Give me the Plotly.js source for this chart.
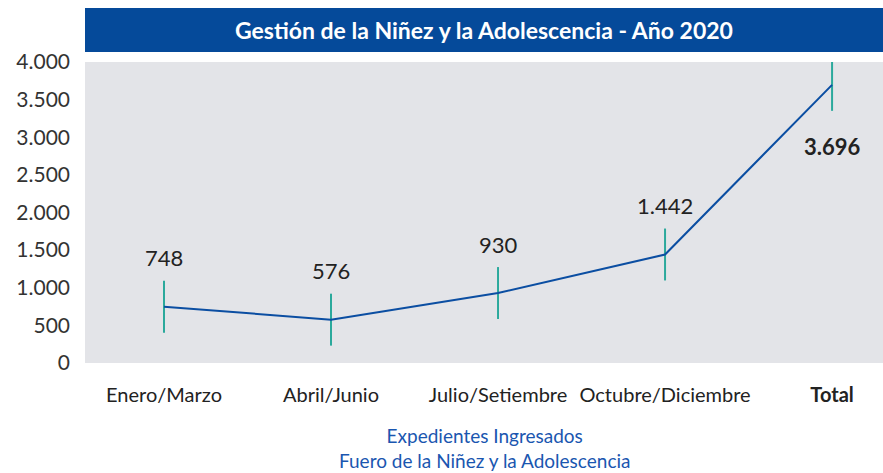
<!DOCTYPE html>
<html>
<head>
<meta charset="utf-8">
<script src="https://cdn.plot.ly/plotly-3.0.1.min.js"></script>
<style>html,body{margin:0;padding:0;background:#fff;}#chart{width:883px;height:473px;}</style>
</head>
<body>
<div id="chart"></div>
<script>
const categories = ["Enero/Marzo", "Abril/Junio", "Julio/Setiembre", "Octubre/Diciembre", "Total"];
const tickLabels = ["Enero/Marzo", "Abril/Junio", "Julio/Setiembre", "Octubre/Diciembre", "<b>Total</b>"];
const values = [748, 576, 930, 1442, 3696];
const errorHalf = [345, 345, 345, 345, 345];
const yTicks = [0, 500, 1000, 1500, 2000, 2500, 3000, 3500, 4000];
const titleText = "Gestión de la Niñez y la Adolescencia - Año 2020";
const footerText = "Expedientes Ingresados<br>Fuero de la Niñez y la Adolescencia";

const FONT = "Lato, 'Open Sans', sans-serif";
const fmt = v => String(v).replace(/\B(?=(\d{3})+(?!\d))/g, ".");
const xIdx = categories.map((c, i) => i);

const trace = {
  x: xIdx,
  y: values,
  type: "scatter",
  mode: "lines",
  line: {color: "#0b4ea2", width: 2},
  error_y: {type: "data", array: errorHalf, visible: true, color: "#2ba99c", thickness: 2, width: 0},
  cliponaxis: false,
  hoverinfo: "none"
};

const valueAnns = values.map((v, i) => {
  const last = i === values.length - 1;
  return {
    x: xIdx[i], y: v, xref: "x", yref: "y",
    text: last ? "<b>" + fmt(v) + "</b>" : fmt(v),
    showarrow: false, yanchor: "middle",
    yshift: last ? -62 : 49,
    font: {family: FONT, size: 22, color: "#222"}
  };
});

const layout = {
  width: 883, height: 473,
  margin: {l: 85, r: 0, t: 62, b: 110},
  paper_bgcolor: "#ffffff",
  plot_bgcolor: "#e3e4e8",
  showlegend: false,
  separators: ",.",
  xaxis: {
    tickmode: "array", tickvals: xIdx, ticktext: tickLabels,
    range: [-0.473, 4.305],
    showgrid: false, zeroline: false, showline: false, ticks: "",
    ticklabelstandoff: 18,
    tickfont: {family: FONT, size: 20, color: "#222"},
    fixedrange: true
  },
  yaxis: {
    range: [0, 4000],
    tickmode: "array", tickvals: yTicks,
    separatethousands: true, tickformat: ",d",
    showgrid: false, zeroline: false, showline: false, ticks: "",
    ticklabelstandoff: 14,
    tickfont: {family: FONT, size: 21, color: "#333"},
    fixedrange: true
  },
  shapes: [{
    type: "rect", xref: "paper", yref: "paper",
    x0: 0, x1: 1, y0: (363 - 52) / 301, y1: (363 - 8) / 301,
    fillcolor: "#054a9a", line: {width: 0}, layer: "below"
  }],
  annotations: [
    {
      xref: "paper", yref: "paper", x: 0.5, y: (363 - 30) / 301,
      xanchor: "center", yanchor: "middle",
      text: "<b>" + titleText + "</b>", showarrow: false,
      font: {family: FONT, size: 23, color: "#ffffff"}
    },
    {
      xref: "paper", yref: "paper", x: 0.5, y: (363 - 448) / 301,
      xanchor: "center", yanchor: "middle",
      text: footerText, showarrow: false,
      font: {family: FONT, size: 19, color: "#1a56b0"}
    }
  ].concat(valueAnns)
};

Plotly.newPlot("chart", [trace], layout, {displayModeBar: false, staticPlot: true});
</script>
</body>
</html>
